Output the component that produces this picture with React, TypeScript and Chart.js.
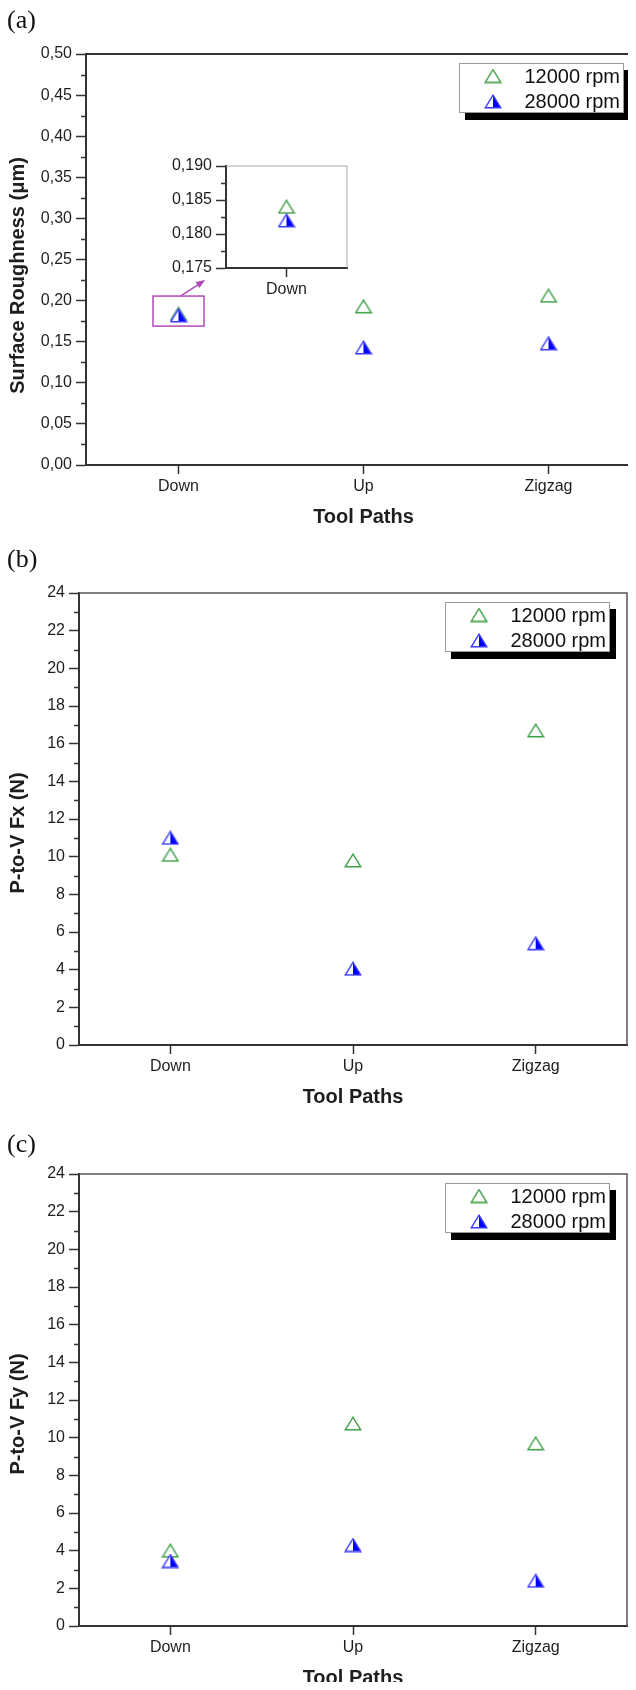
import React, { useEffect, useRef } from 'react';
import { Chart, registerables } from 'chart.js';

Chart.register(...registerables);

// ---------------- data ----------------
const categories = ['Down', 'Up', 'Zigzag'];
const seriesNames = ['12000 rpm', '28000 rpm'];

const roughness12000 = [0.184, 0.193, 0.206];
const roughness28000 = [0.182, 0.143, 0.148];

const insetCategories = ['Down'];
const insetRoughness12000 = [0.184];
const insetRoughness28000 = [0.182];

const fx12000 = [10.1, 9.8, 16.7];
const fx28000 = [11.0, 4.05, 5.4];

const fy12000 = [4.0, 10.75, 9.7];
const fy28000 = [3.45, 4.3, 2.4];

const roughnessTicks = [0, 0.05, 0.1, 0.15, 0.2, 0.25, 0.3, 0.35, 0.4, 0.45, 0.5];
const insetTicks = [0.175, 0.18, 0.185, 0.19];
const forceTicks = [0, 2, 4, 6, 8, 10, 12, 14, 16, 18, 20, 22, 24];

const titleRoughness = 'Surface Roughness (\u03bcm)';
const titleFx = 'P-to-V Fx (N)';
const titleFy = 'P-to-V Fy (N)';
const titleX = 'Tool Paths';
const panelLetters = ['(a)', '(b)', '(c)'];

// ---------------- style ----------------
const FONT = '"Liberation Sans", Arial, Helvetica, sans-serif';
const AXIS = '#333333';
const TEXT = '#1e1e1e';
const GREEN = '#3f9f45';
const BLUE = '#0000ff';
const MAGENTA = '#b04ab8';

let markerCache: any = null;
function getMarkers() {
  if (markerCache) return markerCache;
  const w = 18, h = 15;
  const g = document.createElement('canvas');
  g.width = w; g.height = h;
  const gc = g.getContext('2d')!;
  gc.lineWidth = 1.4;
  gc.strokeStyle = GREEN;
  gc.beginPath();
  gc.moveTo(9, 1.2); gc.lineTo(16.8, 13.8); gc.lineTo(1.2, 13.8); gc.closePath();
  gc.stroke();

  const b = document.createElement('canvas');
  b.width = w; b.height = h;
  const bc = b.getContext('2d')!;
  bc.fillStyle = '#ffffff';
  bc.beginPath();
  bc.moveTo(9, 1.2); bc.lineTo(16.8, 13.8); bc.lineTo(1.2, 13.8); bc.closePath();
  bc.fill();
  bc.fillStyle = BLUE;
  bc.beginPath();
  bc.moveTo(9, 1.2); bc.lineTo(16.8, 13.8); bc.lineTo(9, 13.8); bc.closePath();
  bc.fill();
  bc.lineWidth = 1.4;
  bc.strokeStyle = '#3a3aff';
  bc.beginPath();
  bc.moveTo(9, 1.2); bc.lineTo(16.8, 13.8); bc.lineTo(1.2, 13.8); bc.closePath();
  bc.stroke();
  markerCache = { green: g, blue: b };
  return markerCache;
}

type Spec = {
  x: number; y: number; w: number; h: number;
  area: { left: number; top: number; right: number; bottom: number };
  labels: string[];
  s1: number[]; s2: number[];
  ticks: number[]; decimals: number; tickFont: number;
  yTitle?: string; yTitleX?: number; yTitleShift?: number;
  xTitle?: string;
  legend?: boolean;
  frameColor: string; frameWidth: number;
  annotate?: boolean;
  whiteArea?: boolean;
};

function fmt(v: number, d: number) {
  return v.toFixed(d).replace('.', ',');
}

function makeDecor(spec: Spec) {
  return {
    id: 'decor',
    beforeDraw(chart: any) {
      if (!spec.whiteArea) return;
      const a = chart.chartArea;
      const ctx = chart.ctx;
      ctx.save();
      ctx.fillStyle = '#ffffff';
      ctx.fillRect(a.left, a.top, a.right - a.left, a.bottom - a.top);
      ctx.restore();
    },
    afterDraw(chart: any) {
      const a = chart.chartArea;
      const ctx = chart.ctx;
      const ys = chart.scales.y;
      ctx.save();
      // top/right frame
      ctx.strokeStyle = spec.frameColor;
      ctx.lineWidth = spec.frameWidth;
      ctx.beginPath();
      ctx.moveTo(a.left, a.top);
      ctx.lineTo(a.right, a.top);
      ctx.lineTo(a.right, a.bottom);
      ctx.stroke();
      // minor ticks (midpoints of major ticks)
      ctx.strokeStyle = AXIS;
      ctx.lineWidth = 1.5;
      for (let i = 0; i < spec.ticks.length - 1; i++) {
        const mv = (spec.ticks[i] + spec.ticks[i + 1]) / 2;
        const py = Math.round(ys.getPixelForValue(mv)) + 0.5;
        ctx.beginPath();
        ctx.moveTo(a.left - 5, py);
        ctx.lineTo(a.left, py);
        ctx.stroke();
      }
      // titles
      ctx.fillStyle = TEXT;
      ctx.font = `bold 20px ${FONT}`;
      if (spec.yTitle) {
        ctx.save();
        ctx.translate(spec.yTitleX || 18, (a.top + a.bottom) / 2 + (spec.yTitleShift || 0));
        ctx.rotate(-Math.PI / 2);
        ctx.textAlign = 'center';
        ctx.textBaseline = 'middle';
        ctx.fillText(spec.yTitle, 0, 0);
        ctx.restore();
      }
      if (spec.xTitle) {
        ctx.textAlign = 'center';
        ctx.textBaseline = 'middle';
        ctx.fillText(spec.xTitle, (a.left + a.right) / 2, a.bottom + 52);
      }
      // magenta zoom box + arrow around first category
      if (spec.annotate) {
        const xs = chart.scales.x;
        const cx = xs.getPixelForValue(0);
        const cy = (ys.getPixelForValue(spec.s1[0]) + ys.getPixelForValue(spec.s2[0])) / 2 - 3.5;
        ctx.strokeStyle = MAGENTA;
        ctx.fillStyle = MAGENTA;
        ctx.lineWidth = 1.5;
        ctx.strokeRect(cx - 25.5, cy - 15, 51, 30);
        const sx = cx + 2, sy = cy - 15;
        const ex = cx + 25, ey = cy - 30;
        ctx.beginPath();
        ctx.moveTo(sx, sy);
        ctx.lineTo(ex, ey);
        ctx.stroke();
        const ang = Math.atan2(ey - sy, ex - sx);
        ctx.beginPath();
        ctx.moveTo(ex + Math.cos(ang) * 2, ey + Math.sin(ang) * 2);
        ctx.lineTo(ex - Math.cos(ang - 0.45) * 8, ey - Math.sin(ang - 0.45) * 8);
        ctx.lineTo(ex - Math.cos(ang + 0.45) * 8, ey - Math.sin(ang + 0.45) * 8);
        ctx.closePath();
        ctx.fill();
      }
      // legend
      if (spec.legend) {
        const bw = 165, bh = 50;
        const bx = a.right - 17 - bw, by = a.top + 9;
        ctx.fillStyle = '#000000';
        ctx.fillRect(bx + 6, by + 7, bw, bh);
        ctx.fillStyle = '#ffffff';
        ctx.fillRect(bx, by, bw, bh);
        ctx.strokeStyle = '#9a9a9a';
        ctx.lineWidth = 1;
        ctx.strokeRect(bx + 0.5, by + 0.5, bw - 1, bh - 1);
        chart.data.datasets.forEach((ds: any, i: number) => {
          const rowY = by + 13 + i * 25.5;
          const img = ds.pointStyle as HTMLCanvasElement;
          ctx.drawImage(img, bx + 34 - img.width / 2, rowY - img.height / 2);
          ctx.font = `20px ${FONT}`;
          ctx.fillStyle = '#111111';
          ctx.textAlign = 'right';
          ctx.textBaseline = 'middle';
          ctx.fillText(ds.label, bx + bw - 4, rowY + 1);
        });
      }
      ctx.restore();
    },
  };
}

function buildConfig(spec: Spec): any {
  const m = getMarkers();
  return {
    type: 'line',
    data: {
      labels: spec.labels,
      datasets: [
        {
          label: seriesNames[0], data: spec.s1, showLine: false,
          pointStyle: m.green, pointRadius: 8, order: 1,
          borderColor: GREEN, backgroundColor: GREEN,
        },
        {
          label: seriesNames[1], data: spec.s2, showLine: false,
          pointStyle: m.blue, pointRadius: 8, order: 0,
          borderColor: BLUE, backgroundColor: BLUE,
        },
      ],
    },
    options: {
      responsive: false,
      animation: false,
      events: [],
      layout: { padding: { left: 0, top: spec.area.top, right: spec.w - spec.area.right, bottom: 0 } },
      plugins: { legend: { display: false }, tooltip: { enabled: false }, title: { display: false } },
      scales: {
        x: {
          type: 'category',
          offset: true,
          grid: {
            display: true, drawOnChartArea: false, drawTicks: true, offset: false,
            tickLength: 9, tickWidth: 1.5, tickColor: AXIS,
          },
          border: { display: true, color: AXIS, width: 2 },
          ticks: { font: { family: FONT, size: 16 }, color: TEXT, padding: 3, maxRotation: 0, autoSkip: false },
          afterFit: (s: any) => { s.height = spec.h - spec.area.bottom; },
        },
        y: {
          type: 'linear',
          min: spec.ticks[0],
          max: spec.ticks[spec.ticks.length - 1],
          afterBuildTicks: (s: any) => { s.ticks = spec.ticks.map((v) => ({ value: v })); },
          grid: {
            display: true, drawOnChartArea: false, drawTicks: true,
            tickLength: 10, tickWidth: 1.5, tickColor: AXIS,
          },
          border: { display: true, color: AXIS, width: 2 },
          ticks: {
            font: { family: FONT, size: spec.tickFont }, color: TEXT, padding: 4,
            callback: (v: number) => fmt(v, spec.decimals),
          },
          afterFit: (s: any) => { s.width = spec.area.left; },
        },
      },
    },
    plugins: [makeDecor(spec)],
  };
}

const panelA: Spec = {
  x: 0, y: 0, w: 660, h: 540,
  area: { left: 86, top: 54, right: 641, bottom: 465 },
  labels: categories, s1: roughness12000, s2: roughness28000,
  ticks: roughnessTicks, decimals: 2, tickFont: 16,
  yTitle: titleRoughness, yTitleX: 18, yTitleShift: 16,
  xTitle: titleX, legend: true, frameColor: AXIS, frameWidth: 2, annotate: true,
};

const insetA: Spec = {
  x: 160, y: 150, w: 200, h: 160,
  area: { left: 66, top: 16, right: 187, bottom: 118 },
  labels: insetCategories, s1: insetRoughness12000, s2: insetRoughness28000,
  ticks: insetTicks, decimals: 3, tickFont: 16,
  frameColor: '#a8a8a8', frameWidth: 1, whiteArea: true,
};

const panelB: Spec = {
  x: 0, y: 540, w: 636, h: 580,
  area: { left: 79, top: 53, right: 635.5, bottom: 505 },
  labels: categories, s1: fx12000, s2: fx28000,
  ticks: forceTicks, decimals: 0, tickFont: 16,
  yTitle: titleFx, yTitleX: 18, yTitleShift: 14,
  xTitle: titleX, legend: true, frameColor: '#555555', frameWidth: 1.5,
};

const panelC: Spec = {
  x: 0, y: 1120, w: 636, h: 570,
  area: { left: 79, top: 54, right: 635.5, bottom: 506 },
  labels: categories, s1: fy12000, s2: fy28000,
  ticks: forceTicks, decimals: 0, tickFont: 16,
  yTitle: titleFy, yTitleX: 18, yTitleShift: 14,
  xTitle: titleX, legend: true, frameColor: '#555555', frameWidth: 1.5,
};

function ChartCanvas({ spec }: { spec: Spec }) {
  const ref = useRef<HTMLCanvasElement | null>(null);
  useEffect(() => {
    const chart = new Chart(ref.current as HTMLCanvasElement, buildConfig(spec));
    return () => chart.destroy();
  }, []);
  return (
    <canvas
      ref={ref}
      width={spec.w}
      height={spec.h}
      style={{ position: 'absolute', left: spec.x, top: spec.y, width: spec.w, height: spec.h }}
    />
  );
}

const letterStyle: React.CSSProperties = {
  position: 'absolute',
  left: 7,
  font: '26px "Liberation Serif", "Times New Roman", serif',
  lineHeight: '28px',
  color: '#111',
};

export default function App() {
  return (
    <div
      style={{
        position: 'relative', width: 636, height: 1690, margin: -8,
        overflow: 'hidden', background: '#ffffff',
      }}
    >
      <ChartCanvas spec={panelA} />
      <ChartCanvas spec={insetA} />
      <ChartCanvas spec={panelB} />
      <ChartCanvas spec={panelC} />
      <div style={{ ...letterStyle, top: 6 }}>{panelLetters[0]}</div>
      <div style={{ ...letterStyle, top: 545 }}>{panelLetters[1]}</div>
      <div style={{ ...letterStyle, top: 1130 }}>{panelLetters[2]}</div>
    </div>
  );
}
